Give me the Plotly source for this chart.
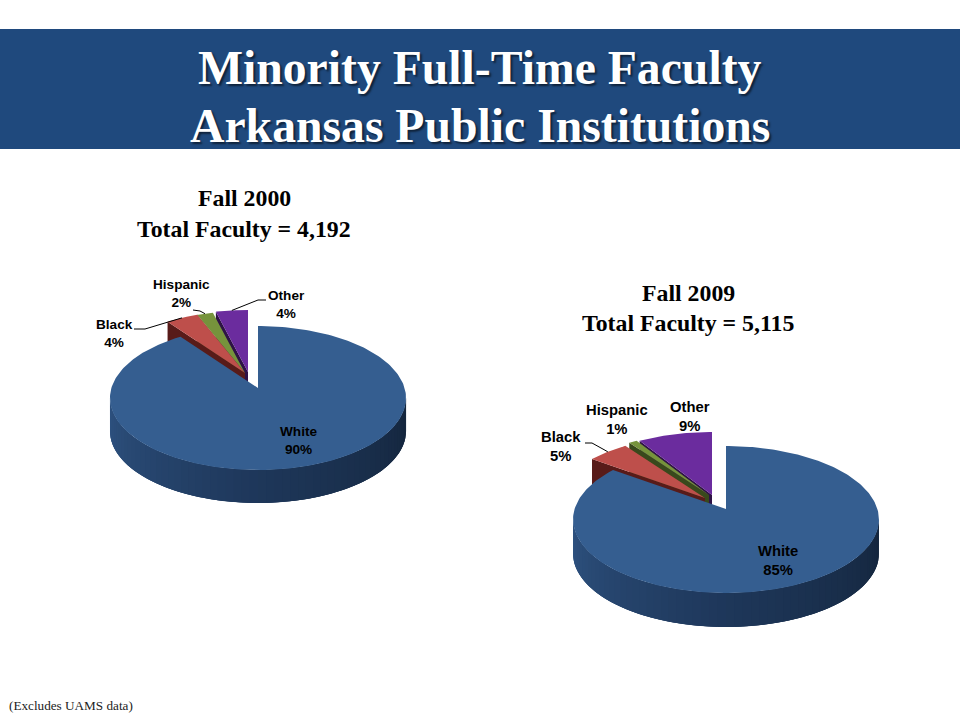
import numpy as np
import plotly.graph_objects as go

categories = ["White", "Black", "Hispanic", "Other"]
values_2000 = [90, 4, 2, 4]
values_2009 = [85, 5, 1, 9]
title_lines = ["Minority Full-Time Faculty", "Arkansas Public Institutions"]
sub_2000 = ["Fall 2000", "Total Faculty = 4,192"]
sub_2009 = ["Fall 2009", "Total Faculty = 5,115"]
footnote = "(Excludes UAMS data)"

top_colors = {"White": "#355E90", "Black": "#BE4F4B", "Hispanic": "#76933C", "Other": "#6B2C9E"}
wall_colors = {"White": None, "Black": "#581B19", "Hispanic": "#39491C", "Other": "#2E1246"}
wall_left, wall_mid, wall_right = (46, 82, 128), (30, 55, 90), (20, 37, 60)

SERIF = "Liberation Serif"
SANS = "Liberation Sans"

pies = [
    dict(values=values_2000, R=146.6, S=70.6, k=0.139, depth=33, font=13.6,
         apex={"White": (258, 388), "Black": (245, 373), "Hispanic": (245, 373), "Other": (248, 372)},
         labels={"White": (298, 440), "Black": (114, 333), "Hispanic": (181, 293), "Other": (286, 304)},
         leaders={"Black": [(134, 329), (145, 329)], "Hispanic": [(193, 310), (200, 311)], "Other": [(266, 300), (258, 300)]}),
    dict(values=values_2009, R=151.4, S=72.0, k=0.143, depth=34, font=14.8,
         apex={"White": (726, 509), "Black": (705, 498), "Hispanic": (709, 495), "Other": (712, 495)},
         labels={"White": (778, 560), "Black": (561, 446), "Hispanic": (617, 419), "Other": (690, 416)},
         leaders={"Black": [(585, 443), (592, 443)]}),
]


def project(p, theta, apex):
    """True pie angle (clockwise from 12 o'clock) -> perspective picture point."""
    w = 1 + p["k"] * np.cos(theta)
    return apex[0] + p["R"] * np.sin(theta) / w, apex[1] - p["S"] * np.cos(theta) / w


def mix(a, b, t):
    return "rgb(%d,%d,%d)" % tuple(round(a[i] + (b[i] - a[i]) * t) for i in range(3))


def poly(fig, xs, ys, color, name):
    fig.add_trace(go.Scatter(x=list(xs), y=list(ys), mode="lines", fill="toself", fillcolor=color,
                             line=dict(color=color, width=0), hoverinfo="skip", name=name, showlegend=False))


fig = go.Figure()
shapes = [dict(type="rect", xref="x", yref="y", x0=0, x1=960, y0=29, y1=149,
               fillcolor="#1F497D", line=dict(width=0), layer="below")]
annotations = []


def text(x, y, s, family, size, color="#000000", bold=True, anchor="center", shadow=None):
    f = dict(family=family, size=size, color=color)
    if shadow:
        f["shadow"] = shadow
    annotations.append(dict(x=x, y=y, xref="x", yref="y", text=f"<b>{s}</b>" if bold else s, showarrow=False,
                            font=f, xanchor=anchor, yanchor="middle", align="center"))


for p in pies:
    total = sum(p["values"])
    spans = {}
    a = 0.0
    for c, v in zip(categories, p["values"]):
        spans[c] = (a, a + 2 * np.pi * v / total)
        a += 2 * np.pi * v / total

    # back to front: small slices first, the large slice on top
    for c in ["Other", "Hispanic", "Black"]:
        t0, t1 = spans[c]
        ax, ay = p["apex"][c]
        cx, cy = project(p, t0, p["apex"][c])
        d = p["depth"]
        poly(fig, [ax, cx, cx, ax, ax], [ay, cy, cy + d, ay + d, ay], wall_colors[c], c + " wall")
        th = np.linspace(t0, t1, 30)
        xs, ys = project(p, th, p["apex"][c])
        poly(fig, [ax, *xs, ax], [ay, *ys, ay], top_colors[c], c)

    # outer wall of the large slice, shaded left to right; each band runs under
    # the next one, and the band ends all the way at the right edge, so no seams show
    apex = p["apex"]["White"]
    lim = np.arccos(-p["k"])
    edges = np.linspace(2 * np.pi - lim, lim, 61)
    for i in range(len(edges) - 1):
        seg = np.linspace(edges[i], edges[min(i + 3, len(edges) - 1)], 8)
        xs, ys = project(p, seg, apex)
        f = i / (len(edges) - 2)
        col = mix(wall_left, wall_mid, f / 0.5) if f < 0.5 else mix(wall_mid, wall_right, (f - 0.5) / 0.5)
        poly(fig, [*xs, *xs[::-1], xs[0]], [*ys, *(ys[::-1] + p["depth"]), ys[0]], col, "White wall")

    t0, t1 = spans["White"]
    th = np.linspace(t0, t1, 240)
    xs, ys = project(p, th, apex)
    poly(fig, [apex[0], *xs, apex[0]], [apex[1], *ys, apex[1]], top_colors["White"], "White")

    for c, pts in p["leaders"].items():
        mid = sum(spans[c]) / 2
        mx, my = project(p, mid, p["apex"][c])
        fig.add_trace(go.Scatter(x=[pts[0][0], pts[1][0], mx], y=[pts[0][1], pts[1][1], my], mode="lines",
                                 line=dict(color="#000000", width=1), hoverinfo="skip", showlegend=False,
                                 name=c + " leader"))

    for c, v in zip(categories, p["values"]):
        lx, ly = p["labels"][c]
        text(lx, ly, f"{c}<br>{v}%", SANS, p["font"])

SH = "2px 2px 2px rgba(0,0,0,0.55)"
text(480, 67.5, title_lines[0], SERIF, 47.7, color="#FFFFFF", shadow=SH)
text(480, 125.5, title_lines[1], SERIF, 47.7, color="#FFFFFF", shadow=SH)
text(244, 198, sub_2000[0], SERIF, 23.8)
text(244, 229, sub_2000[1], SERIF, 23.8)
text(688, 293, sub_2009[0], SERIF, 23.8)
text(688, 323, sub_2009[1], SERIF, 23.8)
text(7, 705, footnote, SERIF, 13.2, color="#222222", bold=False, anchor="left")

fig.update_layout(
    width=960, height=720, margin=dict(l=0, r=0, t=0, b=0),
    paper_bgcolor="#FFFFFF", plot_bgcolor="#FFFFFF", showlegend=False,
    shapes=shapes, annotations=annotations,
    xaxis=dict(range=[0, 960], visible=False, fixedrange=True),
    yaxis=dict(range=[720, 0], visible=False, fixedrange=True),
)
fig.write_html("out.html", config={"displayModeBar": False},
               post_script="document.body.style.margin='0';")
